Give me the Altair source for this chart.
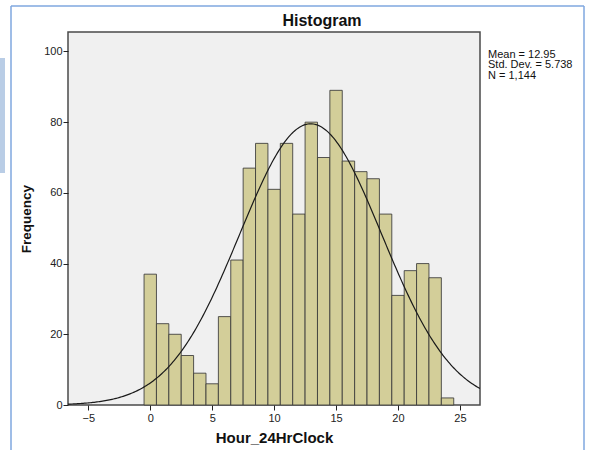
import altair as alt
import numpy as np
import pandas as pd

# Hour of day (bin centres) and the number of records in each one-hour bin
hours = list(range(0, 25))
counts = [37, 23, 20, 14, 9, 6, 25, 41, 67, 74, 61, 74, 54, 80, 70, 89,
          69, 66, 64, 54, 31, 38, 40, 36, 2]

# Summary statistics shown beside the plot
mean = 12.95
std_dev = 5.738
n_total = 1144

chart_title = "Histogram"
x_ticks = [-5, 0, 5, 10, 15, 20, 25]
y_ticks = [0, 20, 40, 60, 80, 100]
x_domain = [-6.64, 26.62]
y_domain = [0, 105.5]

FONT = "Liberation Sans"
BAR_FILL = "#d3ce99"
FRAME_BLUE = "#7fa7df"

bars_df = pd.DataFrame({
    "start": [h - 0.5 for h in hours],
    "end": [h + 0.5 for h in hours],
    "base": [0] * len(hours),
    "count": counts,
})

# Normal curve scaled to counts (bin width 1)
xs = np.linspace(x_domain[0], x_domain[1], 300)
ys = n_total * np.exp(-0.5 * ((xs - mean) / std_dev) ** 2) / (std_dev * np.sqrt(2 * np.pi))
curve_df = pd.DataFrame({"x": xs, "y": ys})

x_scale = alt.Scale(domain=x_domain, nice=False, zero=False)
y_scale = alt.Scale(domain=y_domain, nice=False, padding=0)

x_axis = alt.Axis(values=x_ticks, title="Hour_24HrClock", grid=False,
                  labelFontSize=11, labelFont=FONT, labelColor="#222",
                  titleFont=FONT, titleFontSize=15, titleFontWeight="bold",
                  titleColor="#111", titlePadding=7, tickSize=5,
                  tickColor="#222", labelPadding=2, domain=False)
y_axis = alt.Axis(values=y_ticks, title="Frequency", grid=False,
                  labelFontSize=11, labelFont=FONT, labelColor="#222",
                  titleFont=FONT, titleFontSize=13.5, titleFontWeight="bold",
                  titleColor="#111", titlePadding=10, tickSize=5,
                  tickColor="#222", labelPadding=1, domain=False)

bars = alt.Chart(bars_df).mark_rect(
    fill=BAR_FILL, stroke="#3a3a3a", strokeWidth=1, strokeOpacity=0.85
).encode(
    x=alt.X("start:Q", scale=x_scale, axis=x_axis),
    x2="end:Q",
    y=alt.Y("count:Q", scale=y_scale, axis=y_axis),
    y2="base:Q",
)

curve = alt.Chart(curve_df).mark_line(color="#1a1a1a", strokeWidth=1.2, clip=True).encode(
    x=alt.X("x:Q", scale=x_scale),
    y=alt.Y("y:Q", scale=y_scale),
)

one_row = pd.DataFrame({"k": [0]})

stats = alt.Chart(one_row).mark_text(
    text=[f"Mean = {mean:.2f}", f"Std. Dev. = {std_dev:.3f}", f"N = {n_total:,}"],
    align="left", baseline="top", font=FONT, fontSize=11, lineHeight=10.5,
    color="#111",
).encode(x=alt.value(420), y=alt.value(16.5))

heading = alt.Chart(one_row).mark_text(
    text=chart_title, align="center", baseline="alphabetic", font=FONT,
    fontSize=16, fontWeight="bold", color="#111",
).encode(x=alt.value(254), y=alt.value(-6))

# Output-viewer frame around the chart
frame_top = alt.Chart(one_row).mark_rule(color=FRAME_BLUE, strokeWidth=1.5).encode(
    x=alt.value(-57), x2=alt.value(516), y=alt.value(-26))
frame_left = alt.Chart(one_row).mark_rule(color=FRAME_BLUE, strokeWidth=1.5).encode(
    x=alt.value(-57), y=alt.value(-26), y2=alt.value(420))
frame_right = alt.Chart(one_row).mark_rule(color=FRAME_BLUE, strokeWidth=1.5).encode(
    x=alt.value(516), y=alt.value(-26), y2=alt.value(420))
side_strip = alt.Chart(one_row).mark_rect(color="#b9cde6").encode(
    x=alt.value(-68), x2=alt.value(-63), y=alt.value(26), y2=alt.value(141))

chart = alt.layer(
    bars, curve, stats, heading, frame_top, frame_left, frame_right, side_strip
).properties(
    width=412, height=373,
    autosize=alt.AutoSizeParams(type="none"),
    padding={"left": 68, "top": 32, "right": 109, "bottom": 45},
    background="white",
).configure_view(
    fill="#f0f0f0", stroke="#4a4a4a", strokeWidth=1.5,
)

chart.save("out.html", embed_options={"renderer": "svg", "actions": False})
